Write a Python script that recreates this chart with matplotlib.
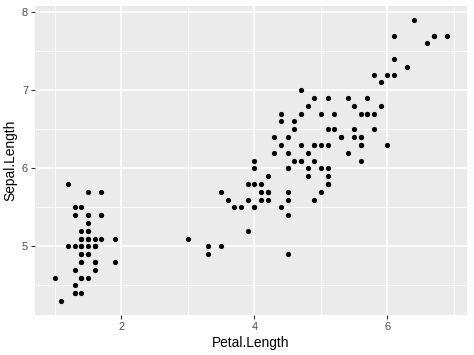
import numpy as np
import matplotlib
matplotlib.use("Agg")
import matplotlib.pyplot as plt

plt.rcParams['font.family'] = ['Liberation Sans', 'DejaVu Sans']

# iris: Petal.Length vs Sepal.Length
petal_length = [
    1.4, 1.4, 1.3, 1.5, 1.4, 1.7, 1.4, 1.5, 1.4, 1.5, 1.5, 1.6, 1.4, 1.1, 1.2, 1.5, 1.3, 1.4, 1.7, 1.5,
    1.7, 1.5, 1.0, 1.7, 1.9, 1.6, 1.6, 1.5, 1.4, 1.6, 1.6, 1.5, 1.5, 1.4, 1.5, 1.2, 1.3, 1.4, 1.3, 1.5,
    1.3, 1.3, 1.3, 1.6, 1.9, 1.4, 1.6, 1.4, 1.5, 1.4,
    4.7, 4.5, 4.9, 4.0, 4.6, 4.5, 4.7, 3.3, 4.6, 3.9, 3.5, 4.2, 4.0, 4.7, 3.6, 4.4, 4.5, 4.1, 4.5, 3.9,
    4.8, 4.0, 4.9, 4.7, 4.3, 4.4, 4.8, 5.0, 4.5, 3.5, 3.8, 3.7, 3.9, 5.1, 4.5, 4.5, 4.7, 4.4, 4.1, 4.0,
    4.4, 4.6, 4.0, 3.3, 4.2, 4.2, 4.2, 4.3, 3.0, 4.1,
    6.0, 5.1, 5.9, 5.6, 5.8, 6.6, 4.5, 6.3, 5.8, 6.1, 5.1, 5.3, 5.5, 5.0, 5.1, 5.3, 5.5, 6.7, 6.9, 5.0,
    5.7, 4.9, 6.7, 4.9, 5.7, 6.0, 4.8, 4.9, 5.6, 5.8, 6.1, 6.4, 5.6, 5.1, 5.6, 6.1, 5.6, 5.5, 4.8, 5.4,
    5.6, 5.1, 5.1, 5.9, 5.7, 5.2, 5.0, 5.2, 5.4, 5.1,
]
sepal_length = [
    5.1, 4.9, 4.7, 4.6, 5.0, 5.4, 4.6, 5.0, 4.4, 4.9, 5.4, 4.8, 4.8, 4.3, 5.8, 5.7, 5.4, 5.1, 5.7, 5.1,
    5.4, 5.1, 4.6, 5.1, 4.8, 5.0, 5.0, 5.2, 5.2, 4.7, 4.8, 5.4, 5.2, 5.5, 4.9, 5.0, 5.5, 4.9, 4.4, 5.1,
    5.0, 4.5, 4.4, 5.0, 5.1, 4.8, 5.1, 4.6, 5.3, 5.0,
    7.0, 6.4, 6.9, 5.5, 6.5, 5.7, 6.3, 4.9, 6.6, 5.2, 5.0, 5.9, 6.0, 6.1, 5.6, 6.7, 5.6, 5.8, 6.2, 5.6,
    5.9, 6.1, 6.3, 6.1, 6.4, 6.6, 6.8, 6.7, 6.0, 5.7, 5.5, 5.5, 5.8, 6.0, 5.4, 6.0, 6.7, 6.3, 5.6, 5.5,
    5.5, 6.1, 5.8, 5.0, 5.6, 5.7, 5.7, 6.2, 5.1, 5.7,
    6.3, 5.8, 7.1, 6.3, 6.5, 7.6, 4.9, 7.3, 6.7, 7.2, 6.5, 6.4, 6.8, 5.7, 5.8, 6.4, 6.5, 7.7, 7.7, 6.0,
    6.9, 5.6, 7.7, 6.3, 6.7, 7.2, 6.2, 6.1, 6.4, 7.2, 7.4, 7.9, 6.4, 6.3, 6.1, 7.7, 6.3, 6.4, 6.0, 6.9,
    6.7, 6.9, 5.8, 6.8, 6.7, 6.7, 6.3, 6.5, 6.2, 5.9,
]
x_ticks = [2, 4, 6]
y_ticks = [5, 6, 7, 8]

fig = plt.figure(figsize=(4.74, 3.55), dpi=100)
ax = fig.add_axes([35 / 474, 1 - 315 / 355, 432 / 474, 309 / 355])
ax.set_facecolor('#EBEBEB')

x = np.array(petal_length)
y = np.array(sepal_length)
xr = x.max() - x.min()
yr = y.max() - y.min()
ax.set_xlim(x.min() - 0.05 * xr, x.max() + 0.05 * xr)
ax.set_ylim(y.min() - 0.05 * yr, y.max() + 0.05 * yr)

ax.set_xticks(x_ticks)
ax.set_yticks(y_ticks)
ax.set_xticks([1, 3, 5, 7], minor=True)
ax.set_yticks([4.5, 5.5, 6.5, 7.5], minor=True)
ax.grid(which='major', color='white', linewidth=1.1)
ax.grid(which='minor', color='white', linewidth=0.55)
ax.set_axisbelow(True)
for s in ax.spines.values():
    s.set_visible(False)

ax.scatter(x, y, s=14, color='black', linewidths=0, zorder=3)

ax.tick_params(which='major', length=3, width=0.8, color='#333333',
               labelsize=7.9, labelcolor='#4D4D4D', pad=2)
ax.tick_params(which='minor', length=0)
ax.set_xlabel('Petal.Length', fontsize=9.9, labelpad=3)
ax.set_ylabel('Sepal.Length', fontsize=9.9, labelpad=3)

fig.savefig('out.png', dpi=100)
